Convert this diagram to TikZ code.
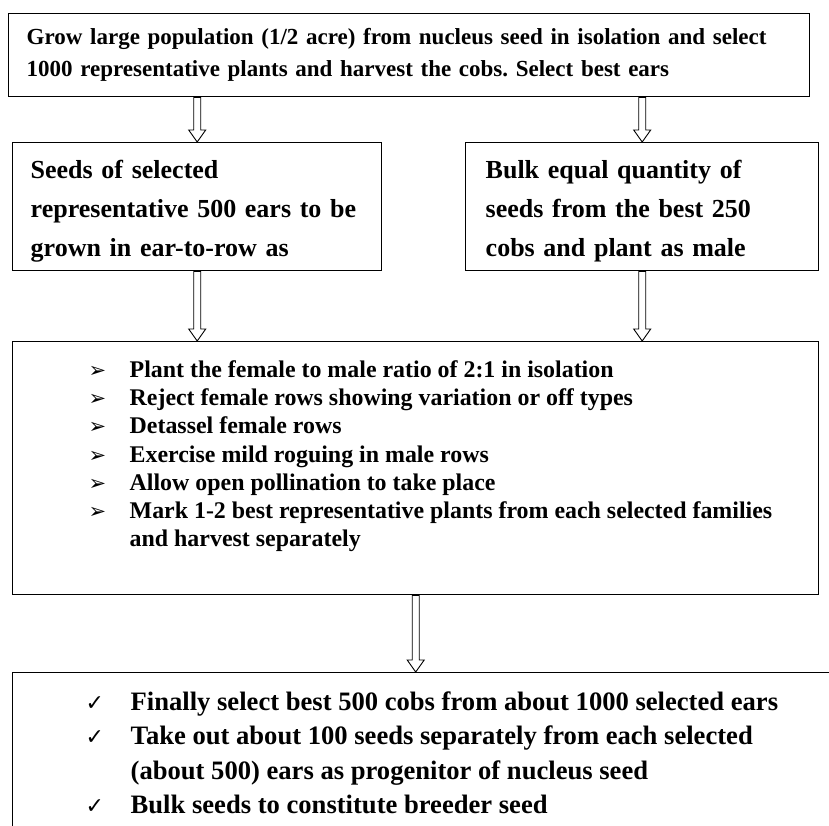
\documentclass[tikz,border=0pt]{standalone}
\usepackage{fontspec}
\setmainfont{Liberation Serif}
\newfontfamily\symfont{DejaVu Sans}
\usepackage{tikz}
\usetikzlibrary{positioning, calc}
\frenchspacing
\tikzstyle{etapa} = [draw, line width=1.4pt, rectangle, inner sep=0pt, anchor=north west, align=left]
\tikzstyle{flecha} = [draw, line width=0.9pt, fill=white]
\newcommand{\bigdown}[2]{\draw[flecha] let \p1=#1, \p2=#2 in (\x1-3.5pt,\y1) -- (\x1+3.5pt,\y1) -- (\x1+3.5pt,\y2+12pt) -- (\x1+8.5pt,\y2+12pt) -- (\x1,\y2) -- (\x1-8.5pt,\y2+12pt) -- (\x1-3.5pt,\y2+12pt) -- cycle;}
\newcommand{\flechita}{{\symfont\fontsize{21pt}{21pt}\selectfont ➢}}
\newcommand{\visto}{{\symfont\fontsize{22pt}{22pt}\selectfont ✓}}
\newcommand{\leftlabel}[1]{#1\hfil}

\begin{document}
\begin{tikzpicture}[x=1pt, y=-1pt]
	\useasboundingbox (0,0) rectangle (829,825);
	\clip (0,0) rectangle (829,825);
	\node [etapa, minimum width=801pt, minimum height=83pt, text width=765pt, font=\fontsize{23pt}{32pt}\selectfont\bfseries] (grow) at (8,13) {Grow large population (1/2 acre) from nucleus seed in isolation and select\\1000 representative plants and harvest the cobs. Select best ears};
	\node [etapa, minimum width=369pt, minimum height=128pt, text width=333pt, font=\fontsize{26pt}{39pt}\selectfont\bfseries] (seeds) at (12,142) {\rule{0pt}{28pt}Seeds of selected\\representative 500 ears to be\\grown in ear-to-row as};
	\node [etapa, minimum width=353pt, minimum height=128pt, text width=313pt, font=\fontsize{26pt}{39pt}\selectfont\bfseries] (bulk) at (465,142) {\rule{0pt}{28pt}Bulk equal quantity of\\seeds from the best 250\\cobs and plant as male};
	\node [etapa, minimum width=806pt, minimum height=253pt, inner xsep=10pt, font=\fontsize{23.9pt}{28.3pt}\selectfont\bfseries] (mid) at (12,341) {%
		\begin{minipage}{786pt}
			\begin{list}{\flechita}{\setlength{\leftmargin}{107pt}\setlength{\labelwidth}{20pt}\setlength{\labelsep}{21pt}\setlength{\itemsep}{0pt}\setlength{\parsep}{0pt}\setlength{\topsep}{0pt}\setlength{\partopsep}{0pt}\let\makelabel\leftlabel}
				\raggedright
				\item Plant the female to male ratio of 2:1 in isolation
				\item Reject female rows showing variation or off types
				\item Detassel female rows
				\item Exercise mild roguing in male rows
				\item Allow open pollination to take place
				\item Mark 1-2 best representative plants from each selected families\newline and harvest separately
			\end{list}
			\vspace*{24pt}
		\end{minipage}};
	\node [etapa, minimum width=824pt, minimum height=160pt, inner xsep=10pt, font=\fontsize{26.6pt}{34.5pt}\selectfont\bfseries] (last) at (12,672) {%
		\begin{minipage}{804pt}
			\begin{list}{\visto}{\setlength{\leftmargin}{108pt}\setlength{\labelwidth}{20pt}\setlength{\labelsep}{25pt}\setlength{\itemsep}{0pt}\setlength{\parsep}{0pt}\setlength{\topsep}{0pt}\setlength{\partopsep}{0pt}\let\makelabel\leftlabel}
				\raggedright
				\item Finally select best 500 cobs from about 1000 selected ears
				\item Take out about 100 seeds separately from each selected\newline (about 500) ears as progenitor of nucleus seed
				\item Bulk seeds to constitute breeder seed
			\end{list}
		\end{minipage}};
	\bigdown{(grow.south -| seeds.north)}{(seeds.north)}
	\bigdown{(grow.south -| bulk.north)}{(bulk.north)}
	\bigdown{(seeds.south)}{(mid.north -| seeds.south)}
	\bigdown{(bulk.south)}{(mid.north -| bulk.south)}
	\bigdown{(mid.south)}{(last.north -| mid.south)}
\end{tikzpicture}
\end{document}
